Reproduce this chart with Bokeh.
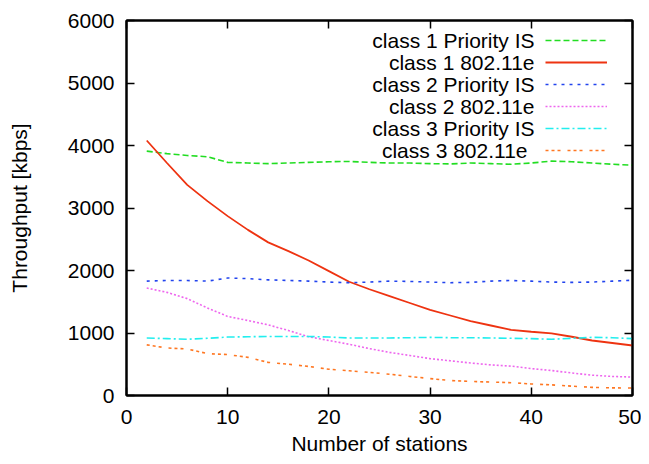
from bokeh.plotting import figure
from bokeh.models import Range1d, LinearAxis, Legend, LegendItem, Label, FixedTicker
from bokeh.embed import file_html
from bokeh.resources import INLINE

# ---- data ----
stations = [2, 4, 6, 8, 10, 12, 14, 16, 18, 20, 22, 24, 26, 28, 30, 32, 34, 36, 38, 40, 42, 44, 46, 48, 50]
class1_pis = [3910, 3870, 3840, 3820, 3730, 3720, 3710, 3720, 3730, 3740, 3745, 3730, 3720, 3720, 3710,
              3705, 3720, 3710, 3700, 3720, 3750, 3740, 3720, 3700, 3685]
class1_e = [4080, 3720, 3370, 3110, 2870, 2650, 2450, 2310, 2160, 1990, 1820, 1700, 1590, 1480, 1370,
            1280, 1190, 1120, 1050, 1020, 995, 940, 880, 840, 800]
class2_pis = [1830, 1840, 1840, 1830, 1880, 1870, 1850, 1840, 1830, 1815, 1805, 1815, 1830, 1825, 1815,
              1805, 1810, 1830, 1840, 1830, 1815, 1810, 1815, 1830, 1845]
class2_e = [1720, 1650, 1550, 1400, 1265, 1200, 1130, 1040, 940, 880, 820, 750, 690, 640, 590,
            555, 520, 490, 470, 430, 400, 360, 325, 305, 295]
class3_pis = [920, 910, 900, 915, 935, 940, 945, 945, 945, 935, 920, 920, 920, 925, 930,
              925, 925, 920, 915, 910, 900, 915, 930, 925, 910]
class3_e = [810, 760, 745, 670, 655, 610, 530, 500, 465, 420, 395, 370, 340, 305, 270,
            240, 225, 215, 205, 185, 170, 150, 130, 122, 120]

series_names = ["class 1 Priority IS", "class 1 802.11e", "class 2 Priority IS",
                "class 2 802.11e", "class 3 Priority IS", "class 3 802.11e"]
x_ticks = [0, 10, 20, 30, 40, 50]
y_ticks = [0, 1000, 2000, 3000, 4000, 5000, 6000]

# ---- styles ----
series_vals = [class1_pis, class1_e, class2_pis, class2_e, class3_pis, class3_e]
colors = ["#22dd22", "#ee3311", "#2244ee", "#ee66ee", "#22eeee", "#ff7722"]
dashes = ["6 3", "solid", "3 5", "2 2", "8 3 2 3", "3 3 3 3 3 7"]
widths = [1.6, 1.8, 1.6, 1.6, 1.6, 1.6]

FONT = "Liberation Sans"
FS = "21px"

p = figure(width=641, height=462, output_backend="svg", toolbar_location=None,
           x_range=Range1d(0, 50), y_range=Range1d(0, 6000),
           min_border_left=126, min_border_right=9, min_border_top=20, min_border_bottom=67)
p.grid.visible = False
p.outline_line_color = "black"
p.outline_line_width = 2
p.background_fill_color = "white"
p.border_fill_color = "white"

p.add_layout(LinearAxis(), "right")
p.add_layout(LinearAxis(), "above")

for ax in p.xaxis:
    ax.ticker = FixedTicker(ticks=x_ticks)
for ax in p.yaxis:
    ax.ticker = FixedTicker(ticks=y_ticks)

for ax in p.axis:
    ax.axis_line_color = "black"
    ax.axis_line_width = 2
    ax.major_tick_in = 8
    ax.major_tick_out = 0
    ax.major_tick_line_width = 1.5
    ax.minor_tick_line_color = None
    ax.major_label_text_font = FONT
    ax.major_label_text_font_size = FS
    ax.major_label_text_color = "black"
    ax.axis_label_text_font = FONT
    ax.axis_label_text_font_size = FS
    ax.axis_label_text_font_style = "normal"
    ax.axis_label_text_color = "black"

for ax in (p.right[0], p.above[0]):
    ax.major_label_text_color = None
    ax.major_label_text_font_size = "1px"
    ax.major_label_standoff = 0

p.below[0].axis_label = "Number of stations"
p.below[0].major_label_standoff = 14
p.below[0].axis_label_standoff = 5
p.left[0].axis_label = "Throughput [kbps]"
p.left[0].major_label_standoff = 12
p.left[0].axis_label_standoff = 34

renderers = []
for vals, c, d, w in zip(series_vals, colors, dashes, widths):
    r = p.line(stations, vals, line_color=c, line_dash=d, line_width=w)
    renderers.append(r)

# legend samples (glyphs only), text drawn on the left like gnuplot
row_h = 22
legend_top = 9  # px below frame top
frame_h = 375
legend = Legend(items=[LegendItem(label=" ", renderers=[r]) for r in renderers],
                location=(419, frame_h - legend_top - row_h * len(renderers)),
                padding=0, margin=0, spacing=0,
                border_line_color=None, background_fill_alpha=0,
                glyph_width=62, glyph_height=row_h, label_height=row_h,
                label_width=0, label_standoff=0, label_text_font_size="1px",
                label_text_color=None)
p.add_layout(legend)

text_right = [408, 408, 408, 408, 408, 401]
for i, name in enumerate(series_names):
    p.add_layout(Label(x=text_right[i], y=frame_h - (legend_top + row_h * i + row_h / 2),
                       x_units="screen", y_units="screen", text=name,
                       text_align="right", text_baseline="middle",
                       text_font=FONT, text_font_size=FS, text_color="black"))

open("out.html", "w").write(file_html(p, INLINE))
